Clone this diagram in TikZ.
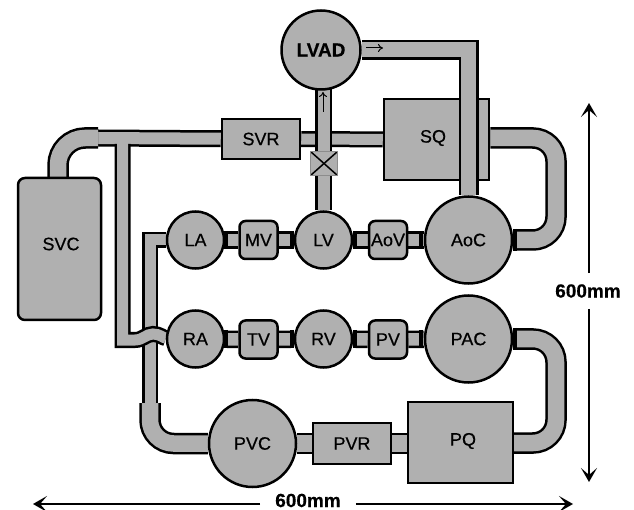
\documentclass[tikz,border=0pt]{standalone}
\usepackage{fontspec}
\setmainfont[FakeBold=0.5]{Liberation Sans}
\usepackage{tikz}
\usetikzlibrary{arrows.meta, backgrounds}
\definecolor{fluid}{gray}{0.69}
\pgfdeclarelayer{front}
\pgfsetlayers{background,main,front}
\tikzstyle{every node}=[font=\fontsize{18}{18}\selectfont, text=black]
\tikzstyle{vessel}=[circle, draw, fill=fluid, line width=2.5pt, inner sep=0pt]
\tikzstyle{tank}=[rectangle, draw, fill=fluid, line width=2.5pt, inner sep=0pt]
\tikzstyle{valve}=[tank, rounded corners=6pt, minimum width=38pt, minimum height=38pt]
\tikzstyle{pipe}=[draw=black, line width=2.5pt, double=fluid, double distance=12pt]
\tikzstyle{widepipe}=[pipe, double distance=16.5pt]
\tikzstyle{joint}=[line width=3.5pt]
\tikzstyle{dim}=[line width=2.5pt, shorten <=9pt, -{Stealth[length=14pt, width=16pt, inset=7pt]}]
\tikzstyle{flow}=[line width=1pt, -{To[length=5pt, width=8pt]}]
\tikzstyle{dimtext}=[font=\fontsize{19}{19}\selectfont\bfseries, text=black, inner sep=0pt]

\begin{document}
\begin{tikzpicture}[x=1pt, y=-1pt]
\useasboundingbox (0,0) rectangle (634,510);
% Large vessels
\begin{pgfonlayer}{front}
    \node[vessel, minimum size=79pt, font=\fontsize{19}{19}\selectfont\bfseries] (LVAD) at (321,50) {LVAD};
    \node[vessel, minimum size=87pt] (AoC) at (468.5,240) {AoC};
\end{pgfonlayer}
\node[vessel, minimum size=87pt] (PAC) at (468.5,339) {PAC};
\node[vessel, minimum size=87pt] (PVC) at (252.5,443.5) {PVC};
% Top row
\node[vessel, minimum size=57pt] (LA) at (195.5,240) {LA};
\node[valve] (MV) at (258.5,240) {MV};
\node[vessel, minimum size=57pt] (LV) at (323.5,240) {LV};
\node[valve] (AoV) at (388,240) {AoV};
% Lower row
\node[vessel, minimum size=57pt] (RA) at (195.5,339) {RA};
\node[valve] (TV) at (258.5,339.5) {TV};
\node[vessel, minimum size=57pt] (RV) at (323.5,339) {RV};
\node[valve] (PV) at (388,339.5) {PV};
% Boxes
\node[tank, minimum width=78pt, minimum height=40pt] (SVR) at (261,139) {SVR};
\node[tank, minimum width=78pt, minimum height=41pt] (PVR) at (352,443.5) {PVR};
\node[tank, minimum width=105pt, minimum height=81pt] (SQ) at (436.5,139.5) {};
\node (SQtext) at (433,138) {SQ};
\node[tank, minimum width=105pt, minimum height=81pt] (PQ) at (460.5,442.5) {};
\node (PQtext) at (463,441) {PQ};
\node[tank, rounded corners=7pt, minimum width=83pt, minimum height=142pt] (SVC) at (59.5,249) {};
\node (SVCtext) at (61,244) {SVC};
% Pipe ends
\coordinate (SVRend) at (98,138);
\coordinate (tee) at (122.5,144);
\coordinate (branch) at (122.5,340);
\coordinate (bump) at (153,334);
\coordinate (LAcorner) at (150,240);
\coordinate (LAend) at (150,403);
\coordinate (SQbendA) at (533,138);
\coordinate (AoCbendA) at (556,217);
\coordinate (PACbendA) at (533,339);
\coordinate (PQbendA) at (556,420);
\coordinate (PQbendB) at (533,443);
% Pipes
\begin{pgfonlayer}{background}
    \draw[pipe] (SVR) -- (SVRend);
    \draw[widepipe] (58,180) -- (58,165) arc[start angle=180, end angle=270, radius=27] -- (SVRend);
    \draw[pipe, double distance=11pt] (SVR) -- (SQ);
    \draw[pipe] (LV) -- (LV |- LVAD);
    \draw[pipe, double distance=12.5pt] (LA) -- (MV);
    \draw[pipe, double distance=12.5pt] (MV) -- (LV);
    \draw[pipe, double distance=12.5pt] (LV) -- (AoV);
    \draw[pipe, double distance=12.5pt] (AoV) -- (AoC);
    \draw[pipe, double distance=12.5pt] (RA) -- (TV);
    \draw[pipe, double distance=12.5pt] (TV) -- (RV);
    \draw[pipe, double distance=12.5pt] (RV) -- (PV);
    \draw[pipe, double distance=12.5pt] (PV) -- (PAC);
    \draw[widepipe] (SQ.east |- SQbendA) -- (SQbendA) arc[start angle=270, end angle=360, radius=23] -- (AoCbendA) arc[start angle=0, end angle=90, radius=23] -- (AoC);
    \draw[widepipe] (PAC) -- (PACbendA) arc[start angle=270, end angle=360, radius=23] -- (PQbendA) arc[start angle=0, end angle=90, radius=23] -- (PQbendB -| PQ);
    \draw[widepipe] (PVC) -- (PVR);
    \draw[widepipe] (PVR) -- (PQ.west |- PVR);
    \draw[pipe, double distance=11pt] (LA) -- (LAcorner) -- (LAend);
    \draw[widepipe] (LAend) -- (150,420) arc[start angle=180, end angle=90, radius=23.5] -- (PVC);
    \draw[pipe, double distance=11pt] (tee) -- (branch) -- (135,340) .. controls (143,340) and (146,334) .. (bump) .. controls (160,334) and (163,338) .. (RA);
    \draw[fluid, line width=11pt] (tee) -- ++(0,-7);
\end{pgfonlayer}
\draw[pipe, double distance=15pt] (LVAD) -| (AoC);
% Joints
\foreach \x in {226,292,355,421} {
    \draw[joint] (\x,231) -- (\x,249);
    \draw[joint] (\x,330) -- (\x,348);
}
\draw[joint] (515,229) -- (515,251);
\draw[joint] (515,328) -- (515,350);
% Crossover
\node[tank, draw=black!45, line width=1pt, minimum width=27pt, minimum height=24pt, path picture={\draw[black, line width=1.5pt] (path picture bounding box.north west) -- (path picture bounding box.south east) (path picture bounding box.south west) -- (path picture bounding box.north east);}] (cross) at (324,163.5) {};
% Flow arrows
\coordinate (flowA) at (366,48);
\coordinate (flowB) at (383,48);
\coordinate (flowC) at (323,112);
\coordinate (flowD) at (323,92);
\draw[flow] (flowA) -- (flowB);
\draw[flow] (flowC) -- (flowD);
% Dimensions
\node[dimtext] (height) at (588,291) {600mm};
\node[dimtext] (width) at (308,500.5) {600mm};
\coordinate (heightA) at (589,103);
\coordinate (heightB) at (589,482);
\coordinate (widthA) at (33,504);
\coordinate (widthB) at (573,504);
\draw[dim, shorten <=11pt] (height.north -| heightA) -- (heightA);
\draw[dim, shorten <=11pt] (height.south -| heightB) -- (heightB);
\draw[dim, shorten <=15pt] (width.west |- widthA) -- (widthA);
\draw[dim, shorten <=15pt] (width.east |- widthB) -- (widthB);
\end{tikzpicture}
\end{document}
